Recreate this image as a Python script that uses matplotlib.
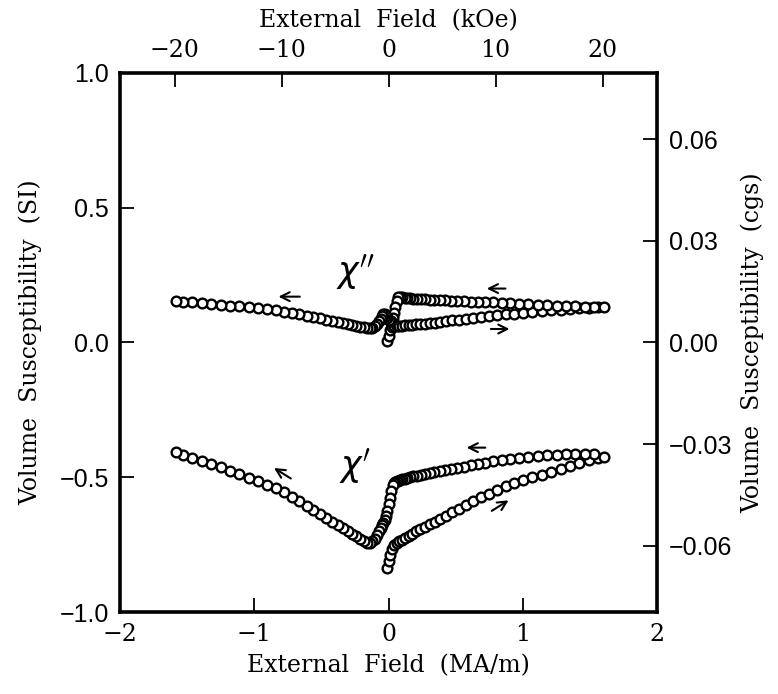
import numpy as np
import matplotlib.pyplot as plt

# field in MA/m, measurement order: virgin up to +1.6, then back down to -1.6
field_up = [-0.015, 0.0, 0.012, 0.025, 0.04, 0.06, 0.08, 0.10, 0.125, 0.15, 0.175, 0.205,
            0.235, 0.27, 0.305, 0.345, 0.385, 0.43, 0.475, 0.525, 0.575, 0.63, 0.685, 0.745,
            0.805, 0.87, 0.935, 1.0, 1.07, 1.14, 1.21, 1.28, 1.35, 1.42, 1.49, 1.56, 1.6]
field_down = [1.53, 1.46, 1.39, 1.32, 1.25, 1.18, 1.11, 1.04, 0.97, 0.905, 0.84, 0.78, 0.72,
              0.665, 0.61, 0.56, 0.51, 0.465, 0.42, 0.38, 0.34, 0.305, 0.27, 0.24, 0.21, 0.185,
              0.16, 0.14, 0.12, 0.10, 0.085, 0.07, 0.06, 0.05, 0.04, 0.03, 0.02, 0.01, 0.0,
              -0.01, -0.02, -0.03, -0.04, -0.05, -0.06, -0.07, -0.085, -0.10, -0.12, -0.14,
              -0.16, -0.185, -0.21, -0.24, -0.27, -0.305, -0.34, -0.38, -0.42, -0.465, -0.51,
              -0.56, -0.61, -0.665, -0.72, -0.78, -0.84, -0.905, -0.97, -1.04, -1.11, -1.18,
              -1.25, -1.32, -1.39, -1.46, -1.53, -1.58]

chi_real_up = [-0.835, -0.812, -0.790, -0.765, -0.750, -0.742, -0.737, -0.731, -0.724, -0.717,
               -0.710, -0.701, -0.693, -0.684, -0.675, -0.665, -0.655, -0.642, -0.630, -0.616,
               -0.602, -0.587, -0.574, -0.561, -0.548, -0.534, -0.521, -0.510, -0.500, -0.492,
               -0.482, -0.470, -0.458, -0.446, -0.435, -0.427, -0.424]
chi_real_down = [-0.413, -0.412, -0.413, -0.414, -0.416, -0.418, -0.420, -0.423, -0.427, -0.431,
                 -0.436, -0.441, -0.446, -0.451, -0.456, -0.461, -0.466, -0.470, -0.474, -0.478,
                 -0.482, -0.485, -0.488, -0.491, -0.494, -0.497, -0.500, -0.503, -0.506, -0.508,
                 -0.510, -0.512, -0.514, -0.516, -0.520, -0.530, -0.550, -0.575, -0.600, -0.625,
                 -0.645, -0.660, -0.670, -0.678, -0.688, -0.700, -0.714, -0.727, -0.738, -0.744,
                 -0.743, -0.736, -0.728, -0.719, -0.710, -0.700, -0.689, -0.677, -0.664, -0.650,
                 -0.636, -0.621, -0.605, -0.588, -0.572, -0.556, -0.541, -0.527, -0.514, -0.501,
                 -0.488, -0.475, -0.463, -0.451, -0.439, -0.427, -0.416, -0.408]

chi_imag_up = [0.005, 0.025, 0.045, 0.058, 0.062, 0.062, 0.063, 0.063, 0.064, 0.065, 0.066, 0.067,
               0.069, 0.070, 0.072, 0.074, 0.076, 0.079, 0.082, 0.085, 0.088, 0.091, 0.094, 0.098,
               0.101, 0.104, 0.107, 0.110, 0.113, 0.116, 0.119, 0.122, 0.124, 0.127, 0.129, 0.131,
               0.132]
chi_imag_down = [0.132, 0.133, 0.134, 0.135, 0.136, 0.138, 0.139, 0.141, 0.143, 0.145, 0.147,
                 0.149, 0.150, 0.151, 0.152, 0.153, 0.154, 0.155, 0.156, 0.157, 0.158, 0.159,
                 0.160, 0.161, 0.162, 0.163, 0.164, 0.165, 0.166, 0.168, 0.170, 0.170, 0.155,
                 0.130, 0.110, 0.090, 0.080, 0.078, 0.082, 0.090, 0.098, 0.104, 0.104, 0.098,
                 0.088, 0.078, 0.068, 0.060, 0.055, 0.054, 0.055, 0.057, 0.059, 0.061, 0.064,
                 0.067, 0.071, 0.075, 0.080, 0.085, 0.090, 0.095, 0.100, 0.105, 0.110, 0.114,
                 0.119, 0.123, 0.127, 0.131, 0.134, 0.137, 0.140, 0.143, 0.146, 0.149, 0.151,
                 0.153]

field = field_up + field_down
chi_real = chi_real_up + chi_real_down
chi_imag = chi_imag_up + chi_imag_down

SERIF = "DejaVu Serif"
SANS = "Liberation Sans"

fig = plt.figure(figsize=(7.78, 6.94), dpi=100)
ax = fig.add_axes([0.154, 0.118, 0.691, 0.777])

mk = dict(ls="none", marker="o", ms=7, mfc="white", mec="black", mew=1.7)
ax.plot(field, chi_real, **mk)
ax.plot(field, chi_imag, **mk)

ax.set_xlim(-2, 2)
ax.set_ylim(-1, 1)
ax.set_xticks([-2, -1, 0, 1, 2])
ax.set_yticks([-1.0, -0.5, 0.0, 0.5, 1.0])
ax.set_yticklabels(["\u22121.0", "\u22120.5", "0.0", "0.5", "1.0"])
ax.set_xticklabels(["\u22122", "\u22121", "0", "1", "2"])
ax.tick_params(direction="in", length=10, width=1.3, pad=8)
ax.tick_params(axis="y", labelfontfamily=SANS, labelsize=18)
ax.tick_params(axis="x", labelfontfamily=SERIF, labelsize=17)
for s in ax.spines.values():
    s.set_linewidth(2.6)

ax.set_xlabel("External  Field  (MA/m)", family=SERIF, fontsize=17, labelpad=6)
ax.set_ylabel("Volume  Susceptibility  (SI)", family=SERIF, fontsize=17, labelpad=12)

k = 4 * np.pi
top = ax.secondary_xaxis("top", functions=(lambda x: x * k, lambda x: x / k))
top.set_xticks([-20, -10, 0, 10, 20])
top.set_xticklabels(["\u221220", "\u221210", "0", "10", "20"])
top.tick_params(direction="in", length=10, width=1.3, pad=8,
                labelfontfamily=SERIF, labelsize=17)
top.set_xlabel("External  Field  (kOe)", family=SERIF, fontsize=17, labelpad=8)

right = ax.secondary_yaxis("right", functions=(lambda y: y / k, lambda y: y * k))
right.set_yticks([-0.06, -0.03, 0.0, 0.03, 0.06])
right.set_yticklabels(["\u22120.06", "\u22120.03", "0.00", "0.03", "0.06"])
right.tick_params(direction="in", length=10, width=1.3, pad=8,
                  labelfontfamily=SANS, labelsize=18)
right.set_ylabel("Volume  Susceptibility  (cgs)", family=SERIF, fontsize=17, labelpad=6)

ax.text(-0.25, 0.26, r"$\chi''$", fontsize=25, ha="center", va="center")
ax.text(-0.25, -0.46, r"$\chi'$", fontsize=25, ha="center", va="center")

arrows = [((-0.84, 0.17), (-0.64, 0.17)),
          ((0.71, 0.20), (0.89, 0.20)),
          ((0.92, 0.05), (0.74, 0.05)),
          ((-0.87, -0.46), (-0.71, -0.51)),
          ((0.56, -0.39), (0.74, -0.39)),
          ((0.91, -0.58), (0.75, -0.63))]
for head, tail in arrows:
    ax.annotate("", xy=head, xytext=tail,
                arrowprops=dict(arrowstyle="->", lw=1.5, color="black", mutation_scale=16))

plt.savefig("out.png", dpi=100)
